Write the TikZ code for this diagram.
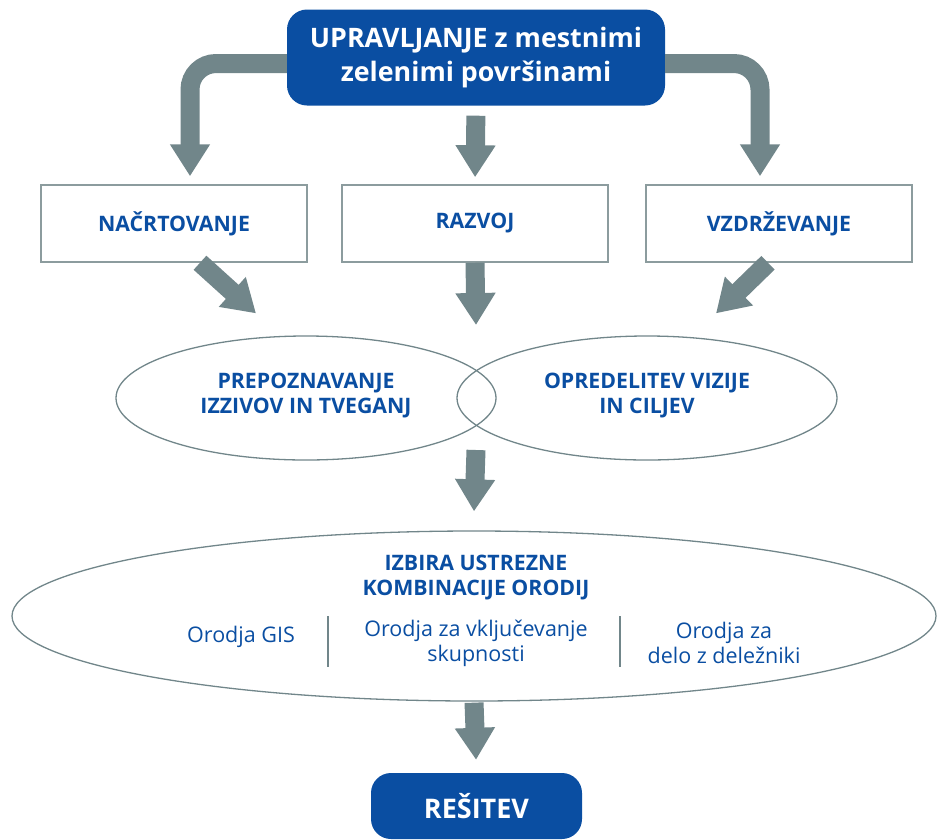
\documentclass[tikz,border=0pt]{standalone}
\usepackage{fontspec}
\setmainfont{Open Sans}
\usepackage{tikz}
\usetikzlibrary{shapes.geometric}
\usetikzlibrary{arrows.meta}
\definecolor{modra}{HTML}{0A4EA2}
\definecolor{siva}{HTML}{71868A}
\definecolor{robsiva}{HTML}{8C9C9E}

\begin{document}
\begin{tikzpicture}[x=1pt, y=-1pt,
  modribox/.style = {fill=modra, rounded corners=20pt, text=white, align=center,
    font=\fontsize{26.8}{34}\selectfont\bfseries, inner sep=0},
  korak/.style = {draw=robsiva, line width=1.5pt, minimum width=266pt, minimum height=77pt,
    text=modra, font=\fontsize{21.3}{25}\selectfont\bfseries},
  elipsa/.style = {draw=siva, line width=1.3pt, ellipse, inner sep=0},
  napis/.style = {text=modra, align=center, font=\fontsize{21.3}{25}\selectfont\bfseries},
  orodje/.style = {text=modra, align=center, font=\fontsize{21.5}{25}\selectfont},
  puscica/.style = {draw=siva, line width=19pt, -{Triangle[width=38pt, length=32pt]}},
  ]
  \useasboundingbox (0, 0) rectangle (937, 839);

  % glavni okvir in koraki
  \node[modribox, minimum width=378pt, minimum height=96pt] (upr) at (476, 57.5)
    {UPRAVLJANJE z mestnimi\\zelenimi površinami};
  \node[korak] (nacrt) at (174, 223.5) {NAČRTOVANJE};
  \node[korak] (razvoj) at (475, 223.5) {RAZVOJ};
  \node[korak] (vzdr) at (779, 223.5) {VZDRŽEVANJE};

  % elipsi
  \node[elipsa, minimum width=380pt, minimum height=124pt] (prep) at (306, 398) {};
  \node[elipsa, minimum width=380pt, minimum height=124pt] (opred) at (647, 398) {};
  \node[napis] at (306, 396) {PREPOZNAVANJE\\IZZIVOV IN TVEGANJ};
  \node[napis] at (647, 396) {OPREDELITEV VIZIJE\\IN CILJEV};

  % izbira orodij
  \node[elipsa, minimum width=924pt, minimum height=170pt] (izbira) at (474, 616) {};
  \node[napis] (naslov) at (476, 578) {IZBIRA USTREZNE\\KOMBINACIJE ORODIJ};
  \node[orodje] (gis) at (241, 637) {Orodja GIS};
  \node[orodje] (skup) at (476, 643) {Orodja za vključevanje\\skupnosti};
  \node[orodje] (delez) at (724, 643) {Orodja za\\delo z deležniki};
  \draw[siva, line width=2pt] (328, 616) -- (328, 667);
  \draw[siva, line width=2pt] (620, 616) -- (620, 667);

  \node[modribox, minimum width=211pt, minimum height=66pt, font=\fontsize{27}{30}\selectfont\bfseries]
    (resitev) at (476.5, 806) {REŠITEV};

  \coordinate (stik) at (476, 325);
  \coordinate (pod) at (476, 450);

  % puscice
  \draw[puscica, rounded corners=26pt] ([yshift=-6]upr.west) -| ([xshift=16, yshift=8]nacrt.north);
  \draw[puscica, rounded corners=26pt] ([yshift=-6]upr.east) -| ([xshift=-19, yshift=8]vzdr.north);
  \draw[puscica, shorten <=10pt, shorten >=7pt] (upr.south) -- (razvoj.north);
  \draw[puscica] ([xshift=26]nacrt.south) -- ([xshift=-50, yshift=22]prep.north);
  \draw[puscica] ([xshift=-11]vzdr.south) -- ([xshift=69, yshift=22]opred.north);
  \draw[puscica] (razvoj.south) -- (stik);
  \draw[puscica] (pod) -- ([yshift=19]izbira.north);
  \draw[puscica, shorten <=1pt, shorten >=13pt] (izbira.south) -- (resitev.north);
\end{tikzpicture}
\end{document}
